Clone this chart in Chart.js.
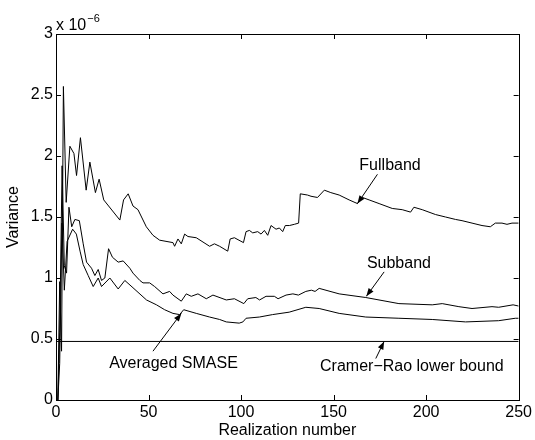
<!DOCTYPE html>
<html><head><meta charset="utf-8">
<script src="https://cdn.jsdelivr.net/npm/chart.js@4/dist/chart.umd.min.js"></script>
<style>html,body{margin:0;padding:0;background:#fff}</style>
</head><body>
<canvas id="c" width="535" height="440"></canvas>
<script>
// Realization numbers (x) and variances (units of 1e-6)
const fullX = [1,2,3,4,5.5, 7.5,9.7,11.1,13.2,16.3, 18.3,21.3,23.3,25.8,34.5, 36.5,39,41.6,44.3,48.8, 52.4,56,63.2,64.1,65.9, 67.7,69.5,71.3,75.8,83, 85.6,88.4,92.8,94.1,96.4, 101.3,102.7,104.5,106.3,109, 110.8,112.6,114.4,116.2,118.9, 120.7,122.5,123.9,126.1,128.8, 131.1,132,135.9,137.8,141.3, 145,148.5,153,158.4,162.9, 165.6,169.2,174.6,181.7,187.1, 191.6,193.4,197.9,205.1,210.5, 215.9,219.4,224.8,230.2,234.7, 237.4,241,243.7,246.4,250];
const fullY = [0,0.97,0.4,2.57,1.62, 2.08,2.02,1.84,2.15,1.72, 1.95,1.70,1.81,1.64,1.475, 1.64,1.69,1.59,1.56,1.42, 1.35,1.31,1.29,1.26,1.32, 1.28,1.36,1.34,1.33,1.26, 1.28,1.26,1.22,1.32,1.33, 1.29,1.38,1.39,1.37,1.38, 1.36,1.39,1.35,1.43,1.40, 1.41,1.38,1.43,1.43,1.44, 1.45,1.69,1.68,1.67,1.66, 1.72,1.70,1.68,1.64,1.61, 1.66,1.64,1.61,1.57,1.56, 1.54,1.58,1.56,1.52,1.50, 1.48,1.47,1.45,1.43,1.42, 1.45,1.45,1.44,1.45,1.45];

const subX = [1,2,3.3,4.5,5.7, 7,8.5,10.2,12.6,14.7, 16.5,19.2,21,22.8,24.6, 26.4,28.4,30.5,33.6,36.3, 39.9,41.6,45.3,47,50.6, 53.3,57.8,61.4,63.2,67.7, 70.4,73.1,76.7,81.2,84.8, 92,96.4,101.5,103.6,108, 110,113.5,118,120,124.3, 128,131,135,138,140, 142.2,153,167.4,185.3, 203.3,208.7,217.7,224.8,235.6, 239.2,247,250];
const subY = [0,0.55,1.92,1.1,1.04, 1.58,1.42,1.48,1.47,1.28, 1.13,1.08,1.02,1.07,0.98, 1.0,1.24,1.17,1.13,1.14, 1.08,1.04,0.98,0.96,0.96, 0.93,0.87,0.89,0.86,0.81, 0.87,0.85,0.87,0.83,0.86, 0.82,0.83,0.79,0.83,0.84, 0.82,0.85,0.85,0.83,0.86, 0.87,0.86,0.89,0.90,0.89, 0.915,0.87,0.84,0.79, 0.78,0.79,0.765,0.75,0.765, 0.76,0.78,0.77];

const smaseX = [1,2,3.2,4.5,6, 9,11,13,14.7,17.4, 20.1,22.8,24.6,29.1,33.6, 37.2,41.6,48.9,54.3,58.7, 63.2,66.8,69,75.8,83, 88.4,92,99,101,102.7, 109.9,117,126,135,142.2, 153,167.4,185.3,203.3,221.3, 239.2,248.2,250];
const smaseY = [0,0.3,1.45,0.9,1.3, 1.40,1.36,1.22,1.11,1.02, 0.93,1.0,0.93,1.0,0.91, 0.98,0.92,0.82,0.78,0.74, 0.71,0.70,0.74,0.71,0.68, 0.66,0.64,0.63,0.64,0.67, 0.68,0.70,0.72,0.76,0.75, 0.71,0.68,0.67,0.66,0.64, 0.65,0.67,0.67];

const crlbX = [0, 250];
const crlbY = [0.48, 0.48];

const xTicks = [0, 50, 100, 150, 200, 250];
const yTicks = [0, 0.5, 1, 1.5, 2, 2.5, 3];

// Annotation labels: text, label position, arrow tail and tip (data coordinates)
const notes = [
  {text:'Fullband',               tx:180.5, ty:1.92, ax:173.7, ay:1.85, bx:162.9, by:1.61},
  {text:'Subband',                tx:185.3, ty:1.12, ax:177.3, ay:1.05, bx:167.7, by:0.85},
  {text:'Averaged SMASE',         tx:63.5,  ty:0.30, ax:52.4,  ay:0.40, bx:67.7,  by:0.71},
  {text:'Cramer\u2212Rao lower bound', tx:192.3, ty:0.27, ax:172.8, ay:0.34, bx:177.3, by:0.48}
];

const FONT = '"Liberation Sans", Arial, Helvetica, sans-serif';
Chart.defaults.font.family = FONT;
Chart.defaults.font.size = 16;
Chart.defaults.color = '#000';

const pts = (xs, ys) => xs.map((x, i) => ({x: x, y: ys[i]}));
const ds = (label, xs, ys) => ({label, data: pts(xs, ys), borderColor:'#000', borderWidth:1, pointRadius:0, tension:0, fill:false});

const deco = {
  id:'deco',
  afterDraw(chart) {
    const {ctx, chartArea:a, scales:{x, y}} = chart;
    ctx.save();
    ctx.strokeStyle = '#000';
    ctx.lineWidth = 1;
    ctx.strokeRect(Math.round(a.left)+0.5, Math.round(a.top)+0.5, Math.round(a.right-a.left), Math.round(a.bottom-a.top));
    ctx.beginPath();
    xTicks.forEach(v => {
      const p = Math.round(x.getPixelForValue(v)) + 0.5;
      ctx.moveTo(p, a.bottom); ctx.lineTo(p, a.bottom - 5);
      ctx.moveTo(p, a.top); ctx.lineTo(p, a.top + 5);
    });
    yTicks.forEach(v => {
      const p = Math.round(y.getPixelForValue(v)) + 0.5;
      ctx.moveTo(a.left, p); ctx.lineTo(a.left + 5, p);
      ctx.moveTo(a.right, p); ctx.lineTo(a.right - 5, p);
    });
    ctx.stroke();
    // multiplier
    ctx.fillStyle = '#000';
    ctx.textBaseline = 'alphabetic';
    ctx.textAlign = 'left';
    ctx.font = '16px ' + FONT;
    ctx.fillText('x 10', a.left, a.top - 4);
    const w = ctx.measureText('x 10').width;
    ctx.font = '11px ' + FONT;
    ctx.fillText('\u22126', a.left + w + 1, a.top - 12);
    // annotations
    ctx.font = '16px ' + FONT;
    ctx.textAlign = 'center';
    ctx.textBaseline = 'middle';
    notes.forEach(n => {
      ctx.fillText(n.text, x.getPixelForValue(n.tx), y.getPixelForValue(n.ty));
      const x1 = x.getPixelForValue(n.ax), y1 = y.getPixelForValue(n.ay);
      const x2 = x.getPixelForValue(n.bx), y2 = y.getPixelForValue(n.by);
      ctx.beginPath(); ctx.moveTo(x1, y1); ctx.lineTo(x2, y2); ctx.stroke();
      const ang = Math.atan2(y2 - y1, x2 - x1), L = 8, W = 3;
      ctx.beginPath();
      ctx.moveTo(x2, y2);
      ctx.lineTo(x2 - L*Math.cos(ang) + W*Math.sin(ang), y2 - L*Math.sin(ang) - W*Math.cos(ang));
      ctx.lineTo(x2 - L*Math.cos(ang) - W*Math.sin(ang), y2 - L*Math.sin(ang) + W*Math.cos(ang));
      ctx.closePath(); ctx.fill();
    });
    ctx.restore();
  }
};

new Chart(document.getElementById('c'), {
  type:'line',
  data:{datasets:[
    ds('Fullband', fullX, fullY),
    ds('Subband', subX, subY),
    ds('Averaged SMASE', smaseX, smaseY),
    ds('Cramer-Rao lower bound', crlbX, crlbY)
  ]},
  options:{
    responsive:false, animation:false, devicePixelRatio:1,
    layout:{padding:{top:34, right:15, left:0, bottom:0}},
    plugins:{legend:{display:false}, tooltip:{enabled:false}},
    scales:{
      x:{type:'linear', min:0, max:250,
         ticks:{stepSize:50, padding:3, maxRotation:0, autoSkip:false},
         grid:{display:false, drawTicks:false}, border:{display:false},
         title:{display:true, text:'Realization number', padding:{top:0, bottom:0}},
         afterFit(s){ s.height = 40; }},
      y:{type:'linear', min:0, max:3,
         ticks:{stepSize:0.5, padding:3, callback:v => String(v)},
         grid:{display:false, drawTicks:false}, border:{display:false},
         title:{display:true, text:'Variance', padding:{top:4, bottom:0}},
         afterFit(s){ s.width = 56; }}
    }
  },
  plugins:[deco]
});
</script>
</body></html>
